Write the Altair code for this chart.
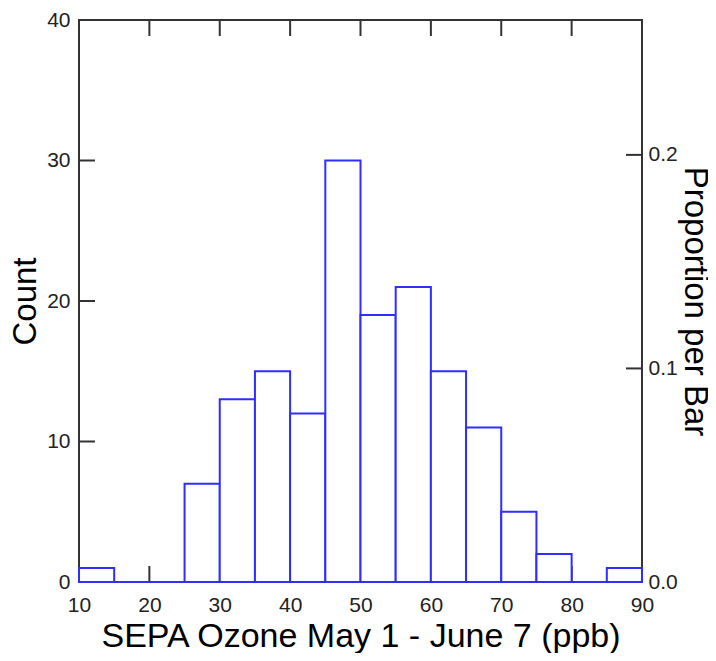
import altair as alt
import pandas as pd

# ---- data ----
bin_starts = [10, 15, 20, 25, 30, 35, 40, 45, 50, 55, 60, 65, 70, 75, 80, 85]
counts = [1, 0, 0, 7, 13, 15, 12, 30, 19, 21, 15, 11, 5, 2, 0, 1]
bin_width = 5
x_labels = [10, 20, 30, 40, 50, 60, 70, 80, 90]
x_ticks = [20, 30, 40, 50, 60, 70, 80]
count_labels = [0, 10, 20, 30, 40]
count_ticks = [10, 20, 30]
prop_labels = [0.0, 0.1, 0.2]
prop_ticks = [0.1, 0.2]

total = sum(counts)

W, H = 563, 562
TICK = 16
FONT = "Liberation Sans, Arial, sans-serif"
FRAME = "#333333"
BLUE = "#2e2eff"

bars_df = pd.DataFrame({
    "start": bin_starts,
    "end": [s + bin_width for s in bin_starts],
    "count": counts,
})

xscale = alt.Scale(domain=[10, 90], nice=False, zero=False)
cscale = alt.Scale(domain=[0, 40], nice=False)
pscale = alt.Scale(domain=[0, 40 / total], nice=False)

xaxis = alt.Axis(values=x_labels, format="d",
                 title="SEPA Ozone May 1 - June 7 (ppb)",
                 labelPadding=12, titlePadding=4, titleFontSize=34,
                 labelFlush=False, labelOverlap=False)

# inward ticks
top_ticks = alt.Chart(pd.DataFrame({"t": x_ticks})).mark_rule(color=FRAME, strokeWidth=2).encode(
    x=alt.X("t:Q", scale=xscale, axis=xaxis),
    y=alt.value(0), y2=alt.value(TICK),
)
bottom_ticks = alt.Chart(pd.DataFrame({"t": x_ticks})).mark_rule(color=FRAME, strokeWidth=2).encode(
    x=alt.X("t:Q", scale=xscale, axis=xaxis),
    y=alt.value(H - TICK), y2=alt.value(H),
)
left_ticks = alt.Chart(pd.DataFrame({"c": count_ticks})).mark_rule(color=FRAME, strokeWidth=2).encode(
    y=alt.Y("c:Q", scale=cscale, axis=None),
    x=alt.value(0), x2=alt.value(TICK),
)
right_ticks = alt.Chart(pd.DataFrame({"p": prop_ticks})).mark_rule(color=FRAME, strokeWidth=2).encode(
    y=alt.Y("p:Q", scale=pscale,
            axis=alt.Axis(orient="right", values=prop_labels, format=".1f",
                          title="Proportion per Bar", labelPadding=6,
                          titlePadding=0, titleAngle=90, titleFontSize=33,
                          labelFlush=False, labelOverlap=False)),
    x=alt.value(W - TICK), x2=alt.value(W),
)

bars = alt.Chart(bars_df).mark_rect(fill="white", stroke=BLUE, strokeWidth=2).encode(
    x=alt.X("start:Q", scale=xscale, axis=xaxis),
    x2="end:Q",
    y=alt.Y("count:Q", scale=cscale,
            axis=alt.Axis(values=count_labels, format="d", title="Count",
                          labelPadding=9, titlePadding=4, titleFontSize=33,
                          labelFlush=False, labelOverlap=False)),
    y2=alt.datum(0),
)

chart = alt.layer(top_ticks, bottom_ticks, left_ticks, right_ticks, bars).resolve_scale(
    y="independent"
).properties(
    width=W, height=H,
    autosize=alt.AutoSizeParams(type="none"),
    padding={"left": 71, "top": 12, "right": 66, "bottom": 71},
).configure_view(
    stroke=FRAME, strokeWidth=2
).configure_axis(
    domain=False, ticks=False, grid=False,
    labelFont=FONT, labelFontSize=21, labelColor="#222222",
    titleFont=FONT, titleFontWeight="normal", titleColor="#000000",
)

chart.save("out.html", embed_options={"renderer": "svg", "actions": False})
